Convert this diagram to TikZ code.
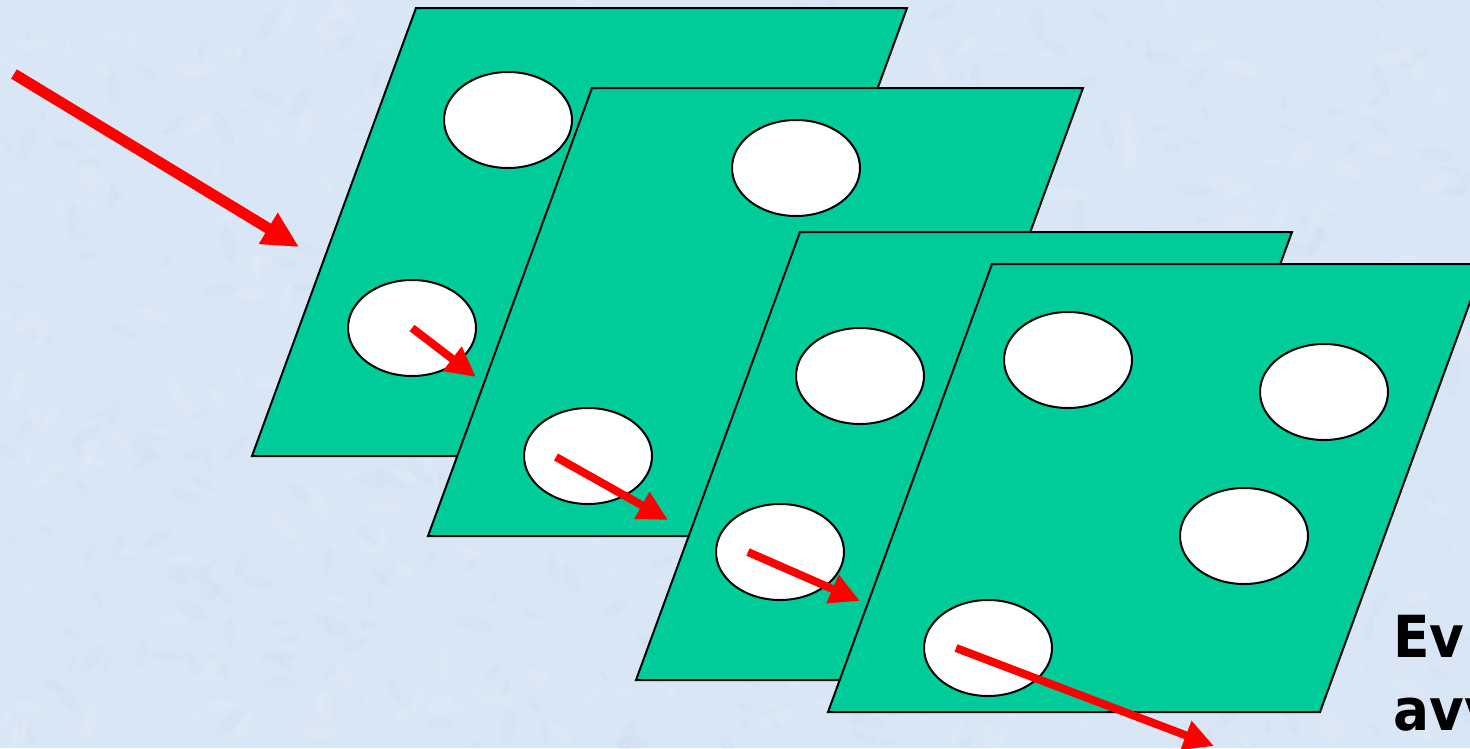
\documentclass[tikz,border=0pt]{standalone}
\usepackage{fontspec}
\newfontfamily\labelfont{DejaVu Sans}[BoldFont={DejaVu Sans Bold}]
\usetikzlibrary{arrows.meta,shapes.geometric}
\definecolor{bgblue}{RGB}{217,230,245}
\definecolor{bgdark}{RGB}{200,217,239}
\definecolor{bglight}{RGB}{232,240,250}
\definecolor{panelgreen}{RGB}{0,204,153}
\definecolor{arrowred}{RGB}{255,0,0}
\tikzset{
  panel/.style={fill=panelgreen, draw=black, line width=2pt, line join=miter},
  hole/.style={ellipse, fill=white, draw=black, line width=2pt, minimum width=128pt, minimum height=96pt, inner sep=0pt},
  ray/.style={draw=arrowred, line width=8pt, -{Triangle[length=30pt,width=29pt]}},
  bigray/.style={draw=arrowred, line width=11pt, -{Triangle[length=36pt,width=34pt]}},
  caption/.style={font=\labelfont\bfseries\fontsize{58}{70}\selectfont, anchor=base west, inner sep=0pt, text=black, xscale=0.92}
}
\begin{document}
\begin{tikzpicture}[x=1pt,y=-1pt]
\useasboundingbox (0,0) rectangle (1470,748);
\fill[bgblue] (0,0) rectangle (1470,748);
% subtle mottled background texture
\pgfmathsetseed{7}
\begin{scope}
\clip (0,0) rectangle (1470,748);
\foreach \i in {1,...,400}{
  \pgfmathsetmacro{\px}{rnd*1470}
  \pgfmathsetmacro{\py}{rnd*748}
  \pgfmathsetmacro{\pr}{6+rnd*14}
  \pgfmathsetmacro{\pa}{rnd*180}
  \fill[bgdark, opacity=0.18, rotate around={\pa:(\px,\py)}] (\px,\py) ellipse[x radius=\pr, y radius=0.35*\pr];
}
\foreach \i in {1,...,400}{
  \pgfmathsetmacro{\px}{rnd*1470}
  \pgfmathsetmacro{\py}{rnd*748}
  \pgfmathsetmacro{\pr}{6+rnd*14}
  \pgfmathsetmacro{\pa}{rnd*180}
  \fill[bglight, opacity=0.25, rotate around={\pa:(\px,\py)}] (\px,\py) ellipse[x radius=\pr, y radius=0.35*\pr];
}
\end{scope}

% big incoming arrow
\coordinate (inS) at (14,74);
\coordinate (inE) at (299,247);
\draw[bigray] (inS) -- (inE);

% panel 1
\draw[panel] (416,8) -- (907,8) -- (743,456) -- (252,456) -- cycle;
\node[hole] (p1a) at (508,120) {};
\node[hole] (p1b) at (412,328) {};
\coordinate (r1) at (476,377);
\draw[ray] (p1b.center) -- (r1);

% panel 2
\draw[panel] (592,88) -- (1083,88) -- (919,536) -- (428,536) -- cycle;
\node[hole] (p2a) at (796,168) {};
\node[hole] (p2b) at (588,456) {};
\coordinate (s2) at (556,457);
\coordinate (r2) at (668,520);
\draw[ray] (s2) -- (r2);

% panel 3
\draw[panel] (800,232) -- (1292,232) -- (1128,680) -- (636,680) -- cycle;
\node[hole] (p3a) at (860,376) {};
\node[hole] (p3b) at (780,552) {};
\coordinate (s3) at (748,552);
\coordinate (r3) at (860,601);
\draw[ray] (s3) -- (r3);

% panel 4
\draw[panel] (992,264) -- (1484,264) -- (1320,712) -- (828,712) -- cycle;
\node[hole] (p4a) at (1068,360) {};
\node[hole] (p4b) at (1324,392) {};
\node[hole] (p4c) at (1244,536) {};
\node[hole] (p4d) at (988,648) {};
\coordinate (s4) at (956,648);
\coordinate (r4) at (1214,746);
\draw[ray] (s4) -- (r4);

% partially visible caption (cut off at the right edge, as in the reference)
\node[caption] (t1) at (1393,657) {Ev};
\node[caption] (t2) at (1393,730) {avv};
\end{tikzpicture}
\end{document}
